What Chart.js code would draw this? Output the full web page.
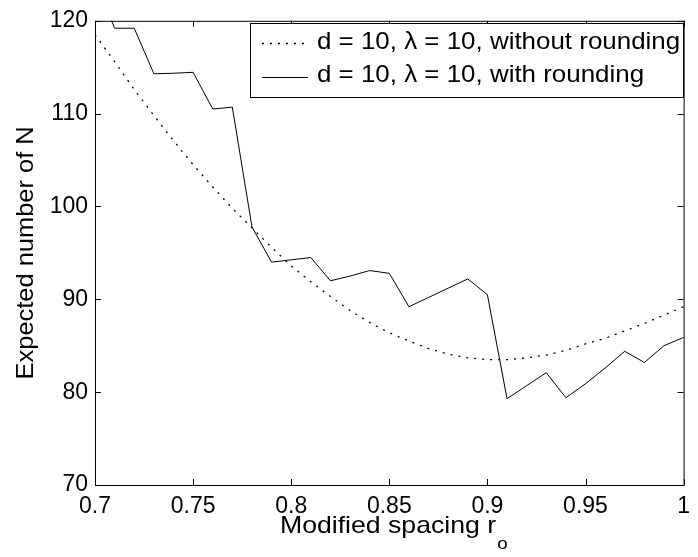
<!DOCTYPE html>
<html lang="en">
<head>
<meta charset="UTF-8" />
<title>Expected number of N vs modified spacing</title>
<style>
  html, body { margin: 0; padding: 0; background: #fff; }
  canvas { display: block; }
</style>
</head>
<body>
<canvas id="spacingChart" width="698" height="557"></canvas>

<script src="https://cdn.jsdelivr.net/npm/chart.js"></script>
<script>
  // modified spacing r_o
  const spacing = [0.70, 0.71, 0.72, 0.73, 0.74, 0.75, 0.76, 0.77, 0.78, 0.79,
                   0.80, 0.81, 0.82, 0.83, 0.84, 0.85, 0.86, 0.87, 0.88, 0.89,
                   0.90, 0.91, 0.92, 0.93, 0.94, 0.95, 0.96, 0.97, 0.98, 0.99, 1.00];

  // expected number of N, d = 10, lambda = 10
  const withoutRounding = [118.5, 115.6, 112.6, 109.8, 107.1, 104.5, 102.1, 99.8, 97.7, 95.6,
                           93.6, 91.9, 90.3, 88.8, 87.5, 86.4, 85.5, 84.7, 84.1, 83.7,
                           83.5, 83.5, 83.7, 84.0, 84.5, 85.2, 85.8, 86.6, 87.4, 88.3, 89.2];
  const withRounding = [124.5, 119.2, 119.2, 114.3, 114.35, 114.45, 110.5, 110.7, 97.8, 94.0,
                        94.25, 94.5, 92.0, 92.5, 93.1, 92.8, 89.2, 90.2, 91.2, 92.2,
                        90.5, 79.3, 80.7, 82.1, 79.4, 80.9, 82.6, 84.4, 83.2, 85.0, 85.9];

  const xTicks = [0.7, 0.75, 0.8, 0.85, 0.9, 0.95, 1];
  const yTicks = [70, 80, 90, 100, 110, 120];
  const seriesLabels = ['d = 10, \u03bb = 10, without rounding', 'd = 10, \u03bb = 10, with rounding'];

  const FONT = '"Liberation Sans", Arial, Helvetica, sans-serif';
  const TICK_LEN = 6;

  // box round the axes with inward ticks on all four sides
  const frame = {
    id: 'frame',
    afterDatasetsDraw(chart) {
      const { ctx, chartArea: a, scales: { x, y } } = chart;
      ctx.save();
      ctx.strokeStyle = '#000';
      ctx.lineWidth = 1;
      ctx.setLineDash([]);
      ctx.strokeRect(a.left + 0.5, a.top + 0.5, a.right - a.left, a.bottom - a.top);
      ctx.beginPath();
      xTicks.forEach(v => {
        const px = Math.round(x.getPixelForValue(v)) + 0.5;
        ctx.moveTo(px, a.bottom); ctx.lineTo(px, a.bottom - TICK_LEN);
        ctx.moveTo(px, a.top); ctx.lineTo(px, a.top + TICK_LEN);
      });
      yTicks.forEach(v => {
        const py = Math.round(y.getPixelForValue(v)) + 0.5;
        ctx.moveTo(a.left, py); ctx.lineTo(a.left + TICK_LEN, py);
        ctx.moveTo(a.right, py); ctx.lineTo(a.right - TICK_LEN, py);
      });
      ctx.stroke();
      ctx.restore();
    }
  };

  // axis titles (the x one carries a subscript)
  const titles = {
    id: 'titles',
    afterDraw(chart) {
      const { ctx, chartArea: a } = chart;
      ctx.save();
      ctx.fillStyle = '#000';
      ctx.textBaseline = 'alphabetic';

      ctx.save();
      ctx.translate(33, (a.top + a.bottom) / 2);
      ctx.rotate(-Math.PI / 2);
      ctx.scale(1.06, 1);
      ctx.font = '24px ' + FONT;
      ctx.textAlign = 'center';
      ctx.fillText('Expected number of N', 0, 0);
      ctx.restore();

      const stretch = 1.11;
      const main = 'Modified spacing r';
      const sub = 'o';
      ctx.font = '24px ' + FONT;
      const wMain = ctx.measureText(main).width * stretch;
      ctx.font = '17px ' + FONT;
      const wSub = ctx.measureText(sub).width * stretch;
      const x0 = (a.left + a.right) / 2 + 4 - (wMain + wSub) / 2;
      ctx.textAlign = 'left';
      ctx.save();
      ctx.translate(x0, 533);
      ctx.scale(stretch, 1);
      ctx.font = '24px ' + FONT;
      ctx.fillText(main, 0, 0);
      ctx.restore();
      ctx.save();
      ctx.translate(x0 + wMain + 1, 549);
      ctx.scale(stretch, 1);
      ctx.font = '17px ' + FONT;
      ctx.fillText(sub, 0, 0);
      ctx.restore();
      ctx.restore();
    }
  };

  // boxed legend in the upper right of the axes
  const legendBox = {
    id: 'legendBox',
    afterDraw(chart) {
      const { ctx } = chart;
      ctx.save();
      ctx.fillStyle = '#fff';
      ctx.fillRect(250, 23, 433, 74);
      ctx.strokeStyle = '#000';
      ctx.lineWidth = 1;
      ctx.strokeRect(250.5, 23.5, 433, 74);
      chart.data.datasets.forEach((ds, i) => {
        const ly = 43.5 + i * 34;
        ctx.strokeStyle = ds.borderColor;
        ctx.lineWidth = ds.borderWidth;
        ctx.setLineDash(ds.borderDash || []);
        ctx.beginPath();
        ctx.moveTo(262, ly);
        ctx.lineTo(308, ly);
        ctx.stroke();
        ctx.setLineDash([]);
        ctx.save();
        ctx.translate(317, 48.5 + i * 33.5);
        ctx.scale(1.08, 1);
        ctx.fillStyle = '#000';
        ctx.font = '24px ' + FONT;
        ctx.textAlign = 'left';
        ctx.textBaseline = 'alphabetic';
        ctx.fillText(ds.label, 0, 0);
        ctx.restore();
      });
      ctx.restore();
    }
  };

  const ctx = document.getElementById('spacingChart').getContext('2d');

  new Chart(ctx, {
    type: 'line',
    data: {
      datasets: [
        {
          label: seriesLabels[0],
          data: spacing.map((r, i) => ({ x: r, y: withoutRounding[i] })),
          borderColor: '#000',
          borderWidth: 1.3,
          borderDash: [2, 6],
          pointRadius: 0,
          tension: 0
        },
        {
          label: seriesLabels[1],
          data: spacing.map((r, i) => ({ x: r, y: withRounding[i] })),
          borderColor: '#000',
          borderWidth: 1,
          pointRadius: 0,
          tension: 0
        }
      ]
    },
    options: {
      responsive: false,
      animation: false,
      layout: { padding: { top: 16, right: 10, left: 0, bottom: 0 } },
      plugins: {
        legend: { display: false },
        tooltip: { enabled: false }
      },
      scales: {
        x: {
          type: 'linear',
          min: 0.7,
          max: 1,
          afterBuildTicks: s => { s.ticks = xTicks.map(v => ({ value: v })); },
          afterFit: s => { s.height = 72; },
          ticks: {
            color: '#000',
            font: { family: FONT, size: 23 },
            padding: 8,
            maxRotation: 0,
            autoSkip: false,
            callback: v => String(v)
          },
          grid: { display: false, drawTicks: false },
          border: { display: false }
        },
        y: {
          type: 'linear',
          min: 70,
          max: 120,
          afterBuildTicks: s => { s.ticks = yTicks.map(v => ({ value: v })); },
          afterFit: s => { s.width = 95; },
          ticks: {
            color: '#000',
            font: { family: FONT, size: 23 },
            padding: 7,
            autoSkip: false,
            callback: v => String(v)
          },
          grid: { display: false, drawTicks: false },
          border: { display: false }
        }
      }
    },
    plugins: [frame, legendBox, titles]
  });
</script>
</body>
</html>
